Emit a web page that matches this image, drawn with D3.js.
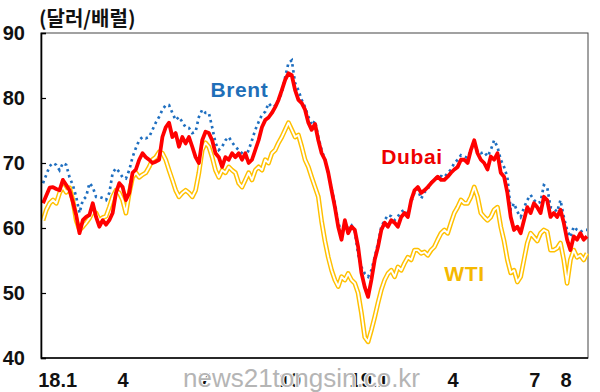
<!DOCTYPE html>
<html>
<head>
<meta charset="utf-8">
<script src="https://cdn.jsdelivr.net/npm/d3@7"></script>
<style>
  body { margin: 0; background: #fff; }
  text { font-family: "Liberation Sans", Arial, sans-serif; font-weight: bold; }
</style>
</head>
<body>
<div id="chart"></div>
<script>
// daily-ish samples, 2018.1 ~ 2019.8 ($/bbl)
const dubai = [63.8,65.0,66.2,66.3,66.0,65.8,67.4,66.6,65.8,64.0,62.0,59.2,61.2,61.7,62.0,63.8,61.7,60.2,61.2,60.5,
  61.2,62.3,65.4,66.9,66.3,64.3,65.4,68.5,69.0,70.5,71.5,70.9,70.5,70.0,70.2,70.5,74.0,75.5,76.2,74.0,
  74.6,72.5,74.0,73.0,74.0,72.5,70.9,70.0,73.5,74.8,74.6,73.5,71.5,70.9,69.4,70.9,70.5,71.5,70.9,71.5,
  70.5,71.5,70.0,70.5,72.0,73.5,75.5,76.6,77.0,77.7,78.6,79.7,81.2,82.8,83.8,83.5,81.2,79.7,79.2,78.2,
  76.2,75.1,76.0,73.5,71.5,70.5,68.5,65.8,63.2,60.2,58.2,61.2,59.2,60.2,59.7,57.1,53.1,50.9,49.4,52.0,
  55.1,57.1,59.7,60.8,60.2,61.2,60.8,60.2,61.7,62.3,61.7,64.3,65.8,66.3,65.4,65.8,66.3,66.9,67.4,67.9,
  67.4,67.4,67.9,68.5,69.0,69.4,70.5,70.5,70.0,72.0,73.5,71.5,70.5,70.0,69.0,71.0,70.5,71.5,68.5,67.9,
  65.4,61.7,59.7,60.2,59.2,61.2,63.2,62.3,63.8,63.2,62.3,64.8,64.3,61.7,62.3,61.7,62.8,60.8,58.2,56.6,
  58.7,58.2,59.2,58.2,58.7];
const brent = [66.9,68.2,69.5,70.0,69.7,68.9,70.0,69.7,67.8,66.6,64.8,62.3,64.3,64.8,66.9,66.3,64.8,64.8,64.6,64.3,
  65.4,68.5,69.2,68.6,67.8,67.6,68.9,70.9,72.3,73.5,74.0,73.8,74.0,75.1,76.2,77.1,78.2,78.9,78.9,77.7,
  76.6,77.1,76.3,75.5,75.4,74.6,74.8,77.1,78.2,77.7,77.7,75.5,73.1,72.0,72.5,73.5,74.0,73.2,72.5,72.0,
  71.5,70.9,72.0,73.5,75.1,76.3,77.4,77.9,79.2,78.6,78.8,79.7,80.8,83.2,85.4,85.8,82.3,81.2,79.7,78.6,
  77.1,75.8,76.5,74.0,72.0,70.5,68.5,66.0,63.8,60.8,59.4,60.5,60.0,60.4,59.5,56.0,54.0,53.0,52.5,53.5,
  55.5,57.7,60.2,61.2,62.0,61.8,61.2,61.8,62.5,62.8,62.0,64.0,65.5,66.0,64.5,65.5,66.0,67.0,67.4,68.0,
  68.0,67.8,68.5,69.0,70.0,70.5,71.2,71.0,70.8,72.0,73.0,71.8,71.5,71.7,71.0,72.0,73.5,72.5,70.5,69.4,
  67.8,62.8,63.8,62.5,61.7,63.1,64.3,65.1,64.3,63.8,64.0,66.6,66.3,63.2,63.0,62.5,64.3,61.7,59.7,58.6,
  60.2,59.7,59.4,59.7,59.7];
const wti = [61.2,62.8,63.8,64.3,63.8,65.4,66.3,65.5,66.2,64.3,61.2,59.7,60.2,60.8,61.5,62.5,62.3,61.2,61.6,61.8,
  63.2,64.8,65.8,65.4,64.3,62.3,65.4,67.8,68.5,67.8,68.2,68.5,69.4,70.5,70.9,71.7,71.5,70.5,68.9,67.4,
  65.8,64.8,65.4,65.8,65.4,64.8,65.8,68.5,72.0,73.1,72.5,70.9,68.9,67.8,68.9,68.5,69.4,68.9,68.5,66.9,
  66.3,67.4,68.5,67.4,68.9,69.4,68.9,70.5,70.0,71.5,72.0,73.1,74.0,75.1,76.2,75.1,74.0,74.3,72.5,70.5,
  69.4,67.8,66.3,64.8,61.0,58.0,55.5,53.5,52.0,51.0,52.5,52.0,53.0,52.0,51.5,50.0,46.9,43.2,42.5,44.3,
  46.3,48.5,50.5,52.0,53.0,53.5,52.5,54.0,53.5,54.6,55.5,55.1,56.6,56.6,56.1,56.3,55.8,56.6,57.1,58.2,
  59.2,59.7,59.2,60.8,62.3,63.2,64.3,63.8,63.8,64.8,66.3,64.8,62.3,61.7,61.2,61.7,62.8,63.2,60.2,58.0,
  55.1,53.1,53.5,51.7,52.5,55.1,57.7,59.2,58.6,58.0,59.2,59.7,59.4,56.6,56.6,56.9,57.7,55.1,51.5,55.1,
  56.6,55.5,55.8,55.1,56.1];

const yTicks = [40, 50, 60, 70, 80, 90];
const xTickLabels = ["18.1", "4", "7", "10", "19.1", "4", "7", "8"];
const xTickIdx = [4.4, 24.1, 48.8, 74.5, 98.3, 123.6, 148.3, 157.7];

const W = 600, H = 392;
const margin = { top: 33, right: 12, bottom: 34, left: 41 };
const width = W - margin.left - margin.right;
const height = H - margin.top - margin.bottom;

const svg = d3.select("#chart").append("svg")
    .attr("width", W)
    .attr("height", H);

const g = svg.append("g")
    .attr("transform", `translate(${margin.left},${margin.top})`);

const x = d3.scaleLinear()
    .domain([0, dubai.length - 1])
    .range([2, width - 1]);

const y = d3.scaleLinear()
    .domain([40, 90])
    .range([height, 0]);

// frame
g.append("rect")
    .attr("x", 0).attr("y", 0)
    .attr("width", width).attr("height", height)
    .attr("fill", "none")
    .attr("stroke", "#444")
    .attr("stroke-width", 1);

const line = d3.line()
    .x((d, i) => x(i))
    .y(d => y(d));

// WTI: gold outline line
g.append("path").datum(wti)
    .attr("d", line)
    .attr("fill", "none")
    .attr("stroke", "#FFC000")
    .attr("stroke-width", 4.8)
    .attr("stroke-linejoin", "round");
g.append("path").datum(wti)
    .attr("d", line)
    .attr("fill", "none")
    .attr("stroke", "#fff")
    .attr("stroke-width", 1.9)
    .attr("stroke-linejoin", "round");

// Brent: dotted
g.append("path").datum(brent)
    .attr("d", line)
    .attr("fill", "none")
    .attr("stroke", "#1F6FC0")
    .attr("stroke-width", 2.7)
    .attr("stroke-dasharray", "2.5,3.6");

// Dubai: thick red
g.append("path").datum(dubai)
    .attr("d", line)
    .attr("fill", "none")
    .attr("stroke", "#FF0000")
    .attr("stroke-width", 3.8)
    .attr("stroke-linejoin", "round");

// axes
const yAxis = d3.axisLeft(y).tickValues(yTicks).tickSize(-5).tickPadding(16);
const yG = g.append("g").call(yAxis);
yG.select(".domain").attr("stroke", "#000").attr("stroke-width", 1.6);
yG.selectAll(".tick line").attr("stroke", "#000").attr("stroke-width", 1.2);
yG.selectAll(".tick text")
    .attr("font-size", 20)
    .attr("font-family", "Liberation Sans, Arial, sans-serif")
    .attr("font-weight", "bold")
    .attr("fill", "#111");

const xG = g.append("g").attr("transform", `translate(0,${height})`);
xG.append("line")
    .attr("x1", 0).attr("x2", width)
    .attr("stroke", "#000").attr("stroke-width", 1.6);
xG.selectAll("text.xl")
    .data(xTickLabels)
    .join("text")
    .attr("class", "xl")
    .attr("x", (d, i) => x(xTickIdx[i]))
    .attr("y", 29)
    .attr("text-anchor", "middle")
    .attr("font-size", 20)
    .attr("fill", "#111")
    .text(d => d);

// unit
svg.append("text")
    .attr("x", 39).attr("y", 26)
    .attr("font-size", 20)
    .style("font-family", "'Noto Sans CJK KR', sans-serif")
    .attr("fill", "#111")
    .text("(달러/배럴)");

// series labels
const labels = [
  { t: "Brent", c: "#1F6FB8", i: 50.5, v: 80.1 },
  { t: "Dubai", c: "#EE0000", i: 102, v: 69.8 },
  { t: "WTI", c: "#F5B800", i: 121, v: 51.8 }
];
g.selectAll("text.lab")
    .data(labels)
    .join("text")
    .attr("class", "lab")
    .attr("x", d => x(d.i))
    .attr("y", d => y(d.v))
    .attr("font-size", 21)
    .attr("letter-spacing", 0.6)
    .attr("fill", d => d.c)
    .text(d => d.t);

// watermark
svg.append("text")
    .attr("x", 183).attr("y", 387)
    .attr("font-size", 26)
    .style("font-weight", "normal")
    .attr("fill", "#b5b5b5")
    .attr("stroke", "#fff")
    .attr("stroke-width", 2)
    .attr("paint-order", "stroke")
    .text("news21tongsin.co.kr");
</script>
</body>
</html>
